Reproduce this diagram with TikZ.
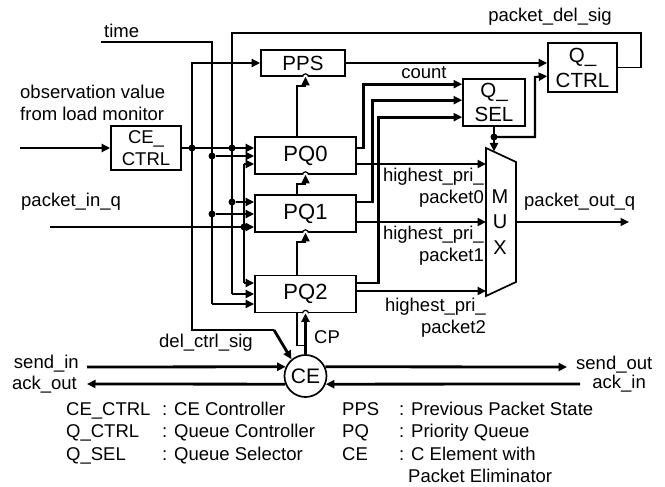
\documentclass[tikz,border=0pt]{standalone}
\usepackage{fontspec}
\setmainfont{Liberation Sans}
\usetikzlibrary{arrows.meta, calc}
\tikzset{
  box/.style={draw, line width=1.7pt, align=center},
  thinw/.style={line width=1.7pt},
  medw/.style={line width=2.2pt},
  boldw/.style={line width=2.8pt},
  dot/.style={circle, fill=black, minimum size=7pt},
  >={Triangle[length=8.5pt, width=8pt]}
}

\begin{document}
\begin{tikzpicture}[x=1pt, y=-1pt, every node/.style={inner sep=0pt, font=\fontsize{18.5}{22}\selectfont}]
  \useasboundingbox (0,0) rectangle (665,487);

  % blocks
  \node[box, minimum width=70pt, minimum height=44pt] (cectrl) at (146,148) {CE\_\\CTRL};
  \node[box, minimum width=84pt, minimum height=26pt, font=\fontsize{20.5}{24}\selectfont] (pps) at (303,63) {PPS};
  \foreach \n/\y in {0/155.5, 1/213.5, 2/294}
    \node[box, minimum width=101pt, minimum height=37pt, font=\fontsize{22}{26}\selectfont] (pq\n) at (305.5,\y) {PQ\n};
  \node[box, minimum width=62pt, minimum height=47pt, font=\fontsize{20.5}{24}\selectfont] (qsel) at (494,102.5) {Q\_\\SEL};
  \node[box, minimum width=69pt, minimum height=49pt, font=\fontsize{20.5}{25}\selectfont] (qctrl) at (582.5,67.5) {Q\_\\CTRL};
  \node[circle, draw, line width=1.7pt, minimum size=42pt, font=\fontsize{21}{24}\selectfont] (ce) at (305.5,376) {CE};

  % mux
  \coordinate (mtl) at (486,148);
  \coordinate (mtr) at (516,162);
  \coordinate (mbr) at (516,282);
  \coordinate (mbl) at (486,296);
  \draw[thinw] (mtl) -- (mtr) -- (mbr) -- (mbl) -- cycle;
  \node[align=center, font=\fontsize{20}{25.5}\selectfont] (mux) at (500,222) {M\\U\\X};

  % junctions
  \node[dot] (a0) at (192,148) {};
  \node[dot] (d0) at (232,148) {};
  \node[dot] (t0) at (212,156) {};
  \coordinate (p0) at (244,164);
  \node[dot] (d1) at (232,202) {};
  \node[dot] (t1) at (212,214) {};
  \node[dot] (p1) at (244,227) {};
  \coordinate (p2) at (244,283);
  \coordinate (d2) at (232,294);
  \coordinate (t2) at (212,304);
  \node[dot] (qd) at (494,137) {};
  \coordinate (obs) at (20,148);
  \coordinate (tin) at (101,42);
  \coordinate (pin) at (50,227);
  \coordinate (dc) at (274,330);
  \coordinate (mout) at (629,222);
  \coordinate (sin) at (87,367);
  \coordinate (sout) at (567,367);
  \coordinate (ain) at (580,384);
  \coordinate (aout) at (87,384);

  % left side
  \draw[boldw, ->] (obs) -- (cectrl.west);
  \draw[boldw, ->] (cectrl.east) -- (pq0.west |- a0);
  \draw[boldw, ->] (a0.center) |- (pps.west);
  \draw[thinw] (a0.center) -- (a0 |- dc) -- (dc);
  \draw[boldw, ->] (dc) -- (ce.130);
  \draw[thinw] (tin) -| (t2);
  \draw[thinw] (qctrl.east) -| (641,33) -| (d2);
  \draw[thinw] (p0) -- (p2);
  \draw[boldw, ->] (pin) -- (p1 -| pq1.west);
  \foreach \j/\q in {t0/pq0, p0/pq0, d1/pq1, t1/pq1, p2/pq2, d2/pq2, t2/pq2}
    \draw[boldw, ->] (\j) -- (\j -| \q.west);

  % queue chain
  \draw[thinw, ->] ($(pq0.north)+(-8.5,0)$) |- ($(pq0.north |- pps.south)+(0,9)$) -- (pq0.north |- pps.south);
  \foreach \a/\b in {pq1/pq0, pq2/pq1}
    \draw[thinw, ->] ($(\a.north)+(-8.5,0)$) |- ($(\b.south)+(0,9)$) -- (\b.south);
  \draw[boldw, ->] (ce.north) -- (pq2.south);
  \draw[thinw] ($(pq2.south)+(-8.5,0)$) |- ($(pq2.south)+(0,32)$);

  % right side
  \draw[boldw, ->] (pps.east) -- (pps.east -| qctrl.west);
  \draw[boldw, ->] (pq0.east |- a0) -- ++(7,0) |- ($(qsel.north west)+(0,6)$);
  \draw[boldw, ->] (pq1.east |- d1) -- ++(16,0) |- ($(qsel.north west)+(0,22)$);
  \draw[boldw, ->] (pq2.east |- p2) -- ++(22,0) |- ($(qsel.north west)+(0,39)$);
  \draw[boldw, ->] (pq0.east |- p0) -- (p0 -| mtl);
  \draw[boldw, ->] (pq1.east |- mux) -- (mux -| mtl);
  \draw[boldw, ->] ($(pq2.east)+(0,-3)$) -- ($(pq2.east -| mtl)+(0,-3)$);
  \draw[medw, ->] (qsel.south) -- (494,151.5);
  \draw[medw, ->] (qd.center) -| (535,77) -- ($(qctrl.north west)+(0,34)$);
  \draw[thinw, ->] (mux -| mtr) -- (mout);

  % handshake
  \draw[boldw, ->] (sin) -- (ce.155);
  \draw[boldw, ->] (ce.25) -- (sout);
  \draw[boldw, ->] (ain) -- (ce.-22);
  \draw[boldw, ->] (ce.202) -- (aout);

  % bubbles
  \foreach \b in {pps, pq0, pq1, pq2}
    \draw[line width=1.2pt, fill=white] (pq0.north |- \b.south) ++(-3pt,0) arc[start angle=180, end angle=0, radius=3pt];

  % labels
  \node[anchor=west] (tlbl) at (104,31) {time};
  \node (pdlbl) at (550,17) {packet\_del\_sig};
  \node[anchor=west, align=left] (obslbl) at (20,102.5) {observation value\\from load monitor};
  \node[anchor=west] (pinlbl) at (21,202) {packet\_in\_q};
  \node (cntlbl) at (424,73) {count};
  \node[anchor=east, align=right] (hp0) at (484,188) {highest\_pri\_\\packet0};
  \node[anchor=east, align=right] (hp1) at (484,246) {highest\_pri\_\\packet1};
  \node[anchor=east, align=right] (hp2) at (486,317.5) {highest\_pri\_\\packet2};
  \node[anchor=west] (poutlbl) at (524,202) {packet\_out\_q};
  \node (dcslbl) at (206,343) {del\_ctrl\_sig};
  \node[anchor=west] (cplbl) at (314,337) {CP};
  \node[anchor=east] (sinlbl) at (79,364) {send\_in};
  \node[anchor=east] (aolbl) at (77,385) {ack\_out};
  \node[anchor=west] (soutlbl) at (576,365) {send\_out};
  \node[anchor=east] (ailbl) at (646,384) {ack\_in};

  % legend
  \foreach \k/\v [count=\i from 0] in {CE\_CTRL/CE Controller, Q\_CTRL/Queue Controller, Q\_SEL/Queue Selector}{
    \node[anchor=base west] (lk\i) at (66,415+22.5*\i) {\k};
    \node[anchor=base west] (lv\i) at (162,415+22.5*\i) {: \v};
  }
  \foreach \k/\v [count=\i from 0] in {PPS/Previous Packet State, PQ/Priority Queue, CE/C Element with}{
    \node[anchor=base west] (rk\i) at (342,415+22.5*\i) {\k};
    \node[anchor=base west] (rv\i) at (399,415+22.5*\i) {: \v};
  }
  \node[anchor=base west] (rv3) at (408,482.5) {Packet Eliminator};
\end{tikzpicture}
\end{document}
